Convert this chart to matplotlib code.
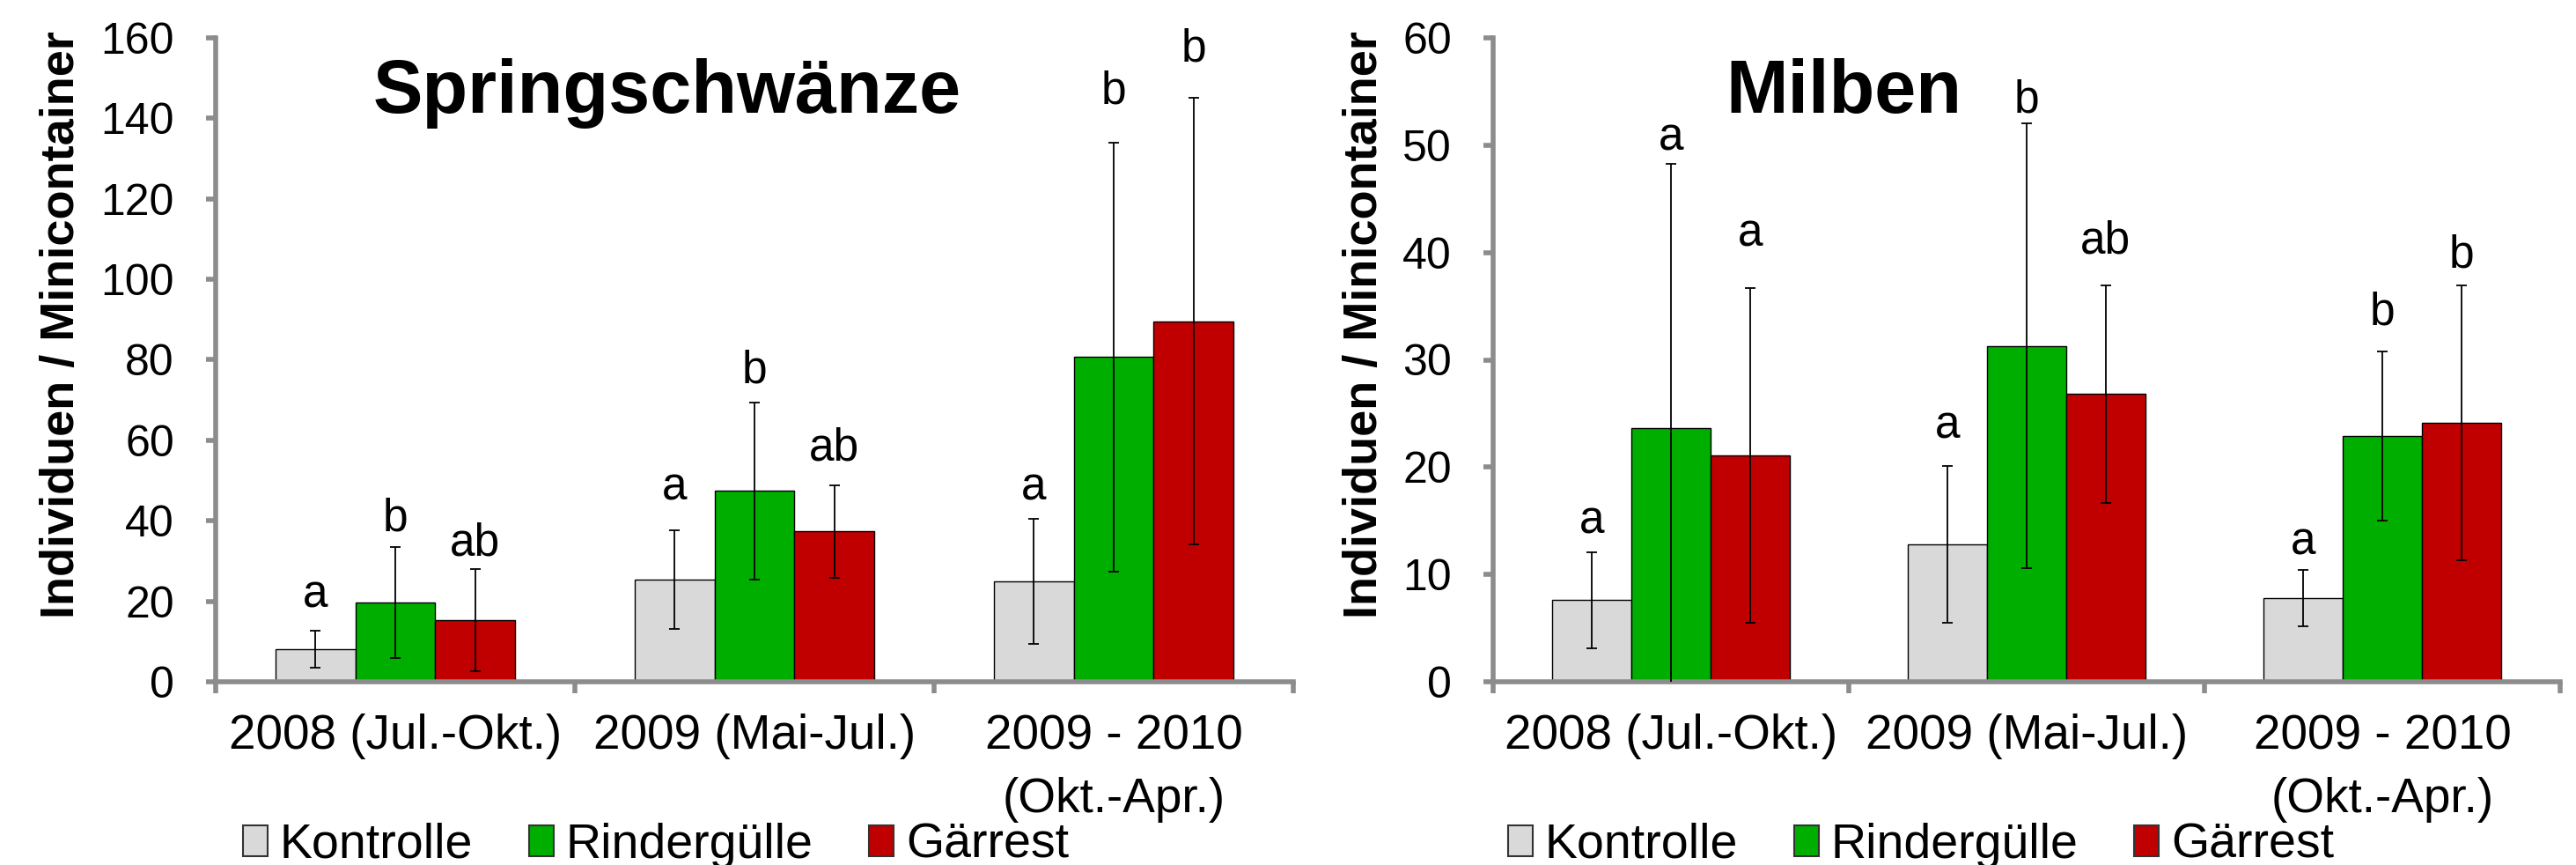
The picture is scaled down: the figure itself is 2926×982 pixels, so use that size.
import matplotlib
matplotlib.use("Agg")
import matplotlib.pyplot as plt
import numpy as np
from matplotlib.patches import Patch

plt.rcParams['font.family'] = ['Liberation Sans', 'DejaVu Sans']

# ---------------- data ----------------
groups = ["2008 (Jul.-Okt.)", "2009 (Mai-Jul.)", "2009 - 2010\n(Okt.-Apr.)"]
series = ["Kontrolle", "Rindergülle", "Gärrest"]
colors = ["#D9D9D9", "#00AE00", "#C00000"]

# Springschwänze
spring_kontrolle = [8.1, 25.4, 25.0]
spring_rinder = [19.7, 47.4, 80.7]
spring_gaerrest = [15.3, 37.4, 89.6]
spring_kontrolle_err = [4.6, 12.2, 15.6]
spring_rinder_err = [13.8, 22.0, 53.3]
spring_gaerrest_err = [12.7, 11.5, 55.5]
spring_kontrolle_letters = ["a", "a", "a"]
spring_rinder_letters = ["b", "b", "b"]
spring_gaerrest_letters = ["ab", "ab", "b"]
spring_kontrolle_letter_y = [18.6, 45.3, 45.3]
spring_rinder_letter_y = [37.6, 74.2, 143.8]
spring_gaerrest_letter_y = [31.3, 55.0, 154.3]

# Milben
milben_kontrolle = [7.6, 12.8, 7.8]
milben_rinder = [23.6, 31.3, 22.9]
milben_gaerrest = [21.1, 26.8, 24.1]
milben_kontrolle_err = [4.5, 7.3, 2.6]
milben_rinder_err = [24.7, 20.7, 7.9]
milben_gaerrest_err = [15.6, 10.1, 12.8]
milben_kontrolle_letters = ["a", "a", "a"]
milben_rinder_letters = ["a", "b", "b"]
milben_gaerrest_letters = ["a", "ab", "b"]
milben_kontrolle_letter_y = [13.8, 22.7, 11.9]
milben_rinder_letter_y = [49.5, 53.1, 33.3]
milben_gaerrest_letter_y = [40.6, 39.9, 38.6]

spring_ticks = [0, 20, 40, 60, 80, 100, 120, 140, 160]
milben_ticks = [0, 10, 20, 30, 40, 50, 60]

# ---------------- figure ----------------
W, H = 2926, 982
fig = plt.figure(figsize=(W / 100, H / 100), dpi=100)

SPINE = "#8C8C8C"
FS = 36


def panel(rect, vals, errs, letters, letter_y, ticks, title, title_x, ylabel_x, legend_cx):
    ax = fig.add_axes(rect)
    x = np.arange(len(groups)) + 0.5
    bw = 0.222
    offsets = [-bw, 0.0, bw]
    for v, e, c, off, lt, ly in zip(vals, errs, colors, offsets, letters, letter_y):
        ax.bar(x + off, v, width=bw, color=c, edgecolor="black", linewidth=1.0, zorder=2)
        ax.errorbar(x + off, v, yerr=e, fmt="none", ecolor="black", elinewidth=1.3,
                    capsize=4.5, capthick=1.3, zorder=3)
        for xi, t, yy in zip(x + off, lt, ly):
            ax.text(xi, yy, t, ha="center", va="baseline", fontsize=37)
    ax.set_xlim(0, 3)
    ax.set_ylim(ticks[0], ticks[-1])
    ax.set_yticks(ticks)
    ax.set_yticklabels([str(t) for t in ticks], fontsize=FS)
    ax.set_xticks([0, 1, 2, 3])
    ax.set_xticklabels([])
    ax.set_xticks(x, minor=True)
    ax.set_xticklabels(groups, minor=True, fontsize=39.5, linespacing=1.5)
    ax.tick_params(axis="x", which="minor", length=0, pad=26)
    ax.tick_params(axis="x", which="major", length=9, width=4, color=SPINE, direction="out")
    ax.tick_params(axis="y", length=8, width=4, color=SPINE, direction="out", pad=26)
    for s in ["top", "right"]:
        ax.spines[s].set_visible(False)
    for s in ["left", "bottom"]:
        ax.spines[s].set_color(SPINE)
        ax.spines[s].set_linewidth(4)
    ax.text(title_x, 0.884, title, transform=ax.transAxes, ha="center", va="baseline",
            fontsize=61, fontweight="bold")
    fig.text(ylabel_x / W, 1 - 368.5 / H, "Individuen / Minicontainer", rotation=90,
             ha="center", va="center", fontsize=39, fontweight="bold")
    handles = [Patch(facecolor=c, edgecolor="#333333", linewidth=1.5) for c in colors]
    fig.legend(handles, series, loc="center", bbox_to_anchor=(legend_cx / W, 1 - 960 / H),
               ncol=3, frameon=False, fontsize=40, handlelength=0.5, handleheight=0.6,
               handletextpad=0.25, columnspacing=1.15, borderpad=0.1)
    return ax


panel([245 / W, 1 - 774 / H, 1224 / W, 731 / H],
      [spring_kontrolle, spring_rinder, spring_gaerrest],
      [spring_kontrolle_err, spring_rinder_err, spring_gaerrest_err],
      [spring_kontrolle_letters, spring_rinder_letters, spring_gaerrest_letters],
      [spring_kontrolle_letter_y, spring_rinder_letter_y, spring_gaerrest_letter_y],
      spring_ticks, "Springschwänze", 0.419, 70, 745)

panel([1696 / W, 1 - 774 / H, 1212 / W, 731 / H],
      [milben_kontrolle, milben_rinder, milben_gaerrest],
      [milben_kontrolle_err, milben_rinder_err, milben_gaerrest_err],
      [milben_kontrolle_letters, milben_rinder_letters, milben_gaerrest_letters],
      [milben_kontrolle_letter_y, milben_rinder_letter_y, milben_gaerrest_letter_y],
      milben_ticks, "Milben", 0.329, 1550, 2182)

fig.savefig("out.png", dpi=100, facecolor="white")
